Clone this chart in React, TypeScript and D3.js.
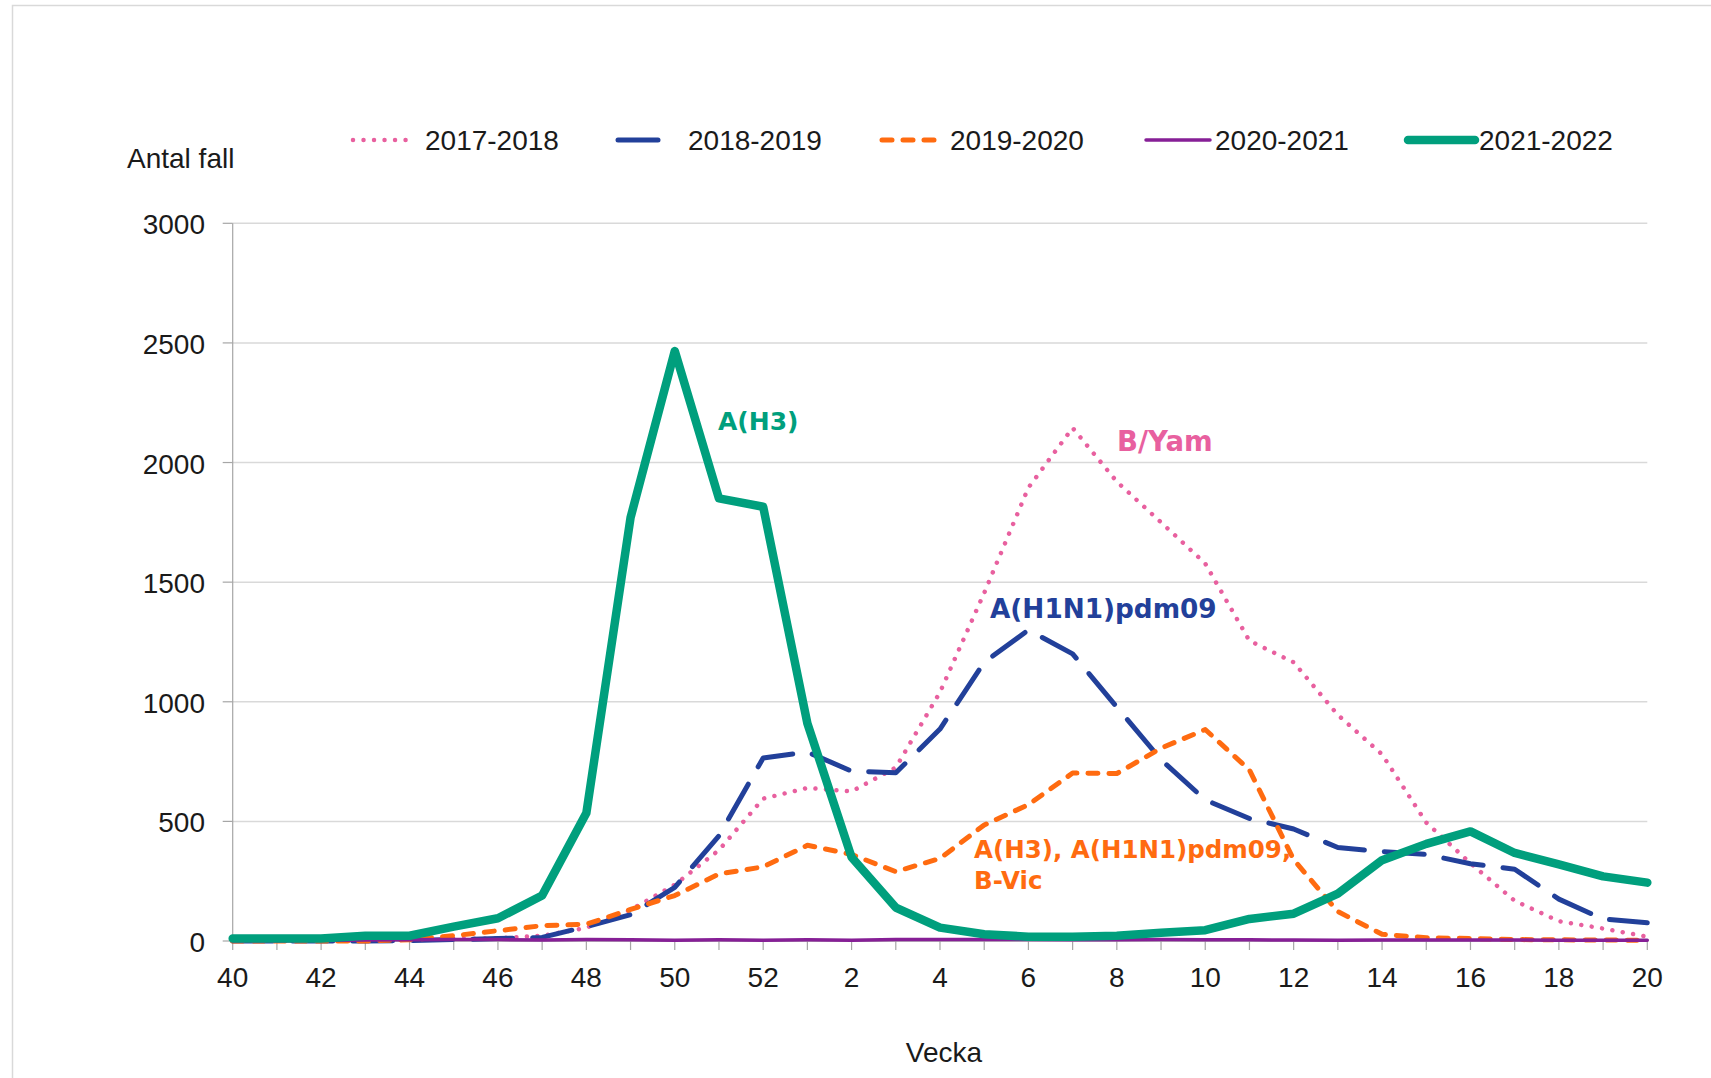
import React from "react";
import * as d3 from "d3";

const weeks = ["40","41","42","43","44","45","46","47","48","49","50","51","52","1","2","3","4","5","6","7","8","9","10","11","12","13","14","15","16","17","18","19","20"];
const yTicks = [0, 500, 1000, 1500, 2000, 2500, 3000];

const s2017 = [0,0,0,2,5,8,12,22,55,130,235,380,595,640,625,725,1040,1455,1895,2145,1920,1750,1578,1255,1165,945,780,495,325,168,83,52,18];
const s2018 = [0,0,0,0,2,6,10,15,60,110,224,440,765,790,710,703,886,1165,1300,1200,978,758,590,512,468,391,374,362,323,300,175,92,76];
const s2019 = [0,0,0,0,5,22,43,64,70,132,190,280,310,400,362,290,345,485,570,702,700,806,884,715,340,123,28,14,10,6,5,4,3];
const s2020 = [0,0,2,4,5,6,6,4,6,5,3,5,3,5,3,6,6,6,6,5,5,6,5,5,4,3,4,4,4,4,3,3,3];
const s2021 = [10,10,10,22,22,60,95,190,535,1770,2466,1850,1815,910,350,140,56,28,18,18,22,34,45,92,114,198,338,406,458,368,320,270,244];

const seriesNames = ["2017-2018","2018-2019","2019-2020","2020-2021","2021-2022"];
const seriesData = [s2017, s2018, s2019, s2020, s2021];
const seriesStyle = [
  { color: "#E8609F", width: 4.5, dash: "0.01 10.5", cap: "round" },
  { color: "#22409A", width: 5, dash: "40 20", cap: "round" },
  { color: "#FF6B10", width: 5, dash: "10 11", cap: "round" },
  { color: "#861F96", width: 3.5, dash: null, cap: "round" },
  { color: "#009F7D", width: 8.5, dash: null, cap: "round" },
];
const legendPos = [
  { x1: 353, x2: 413, tx: 425 },
  { x1: 618, x2: 676, tx: 688 },
  { x1: 882, x2: 941, tx: 950 },
  { x1: 1146, x2: 1210, tx: 1215 },
  { x1: 1408, x2: 1475, tx: 1479 },
];

const annotations = [
  { lines: ["A(H3)"], x: 718, y: 430, color: "#009F7D", size: 25 },
  { lines: ["B/Yam"], x: 1117, y: 451, color: "#E8609F", size: 27.5 },
  { lines: ["A(H1N1)pdm09"], x: 990, y: 618, color: "#22409A", size: 26.3 },
  { lines: ["A(H3), A(H1N1)pdm09,", "B-Vic"], x: 974, y: 858, color: "#FF6B10", size: 24.5 },
];

const FONT = "'Liberation Sans', Arial, sans-serif";
const BOLD = "'DejaVu Sans', Verdana, sans-serif";

export default function App() {
  const W = 1711, H = 1078;
  const x = d3.scalePoint<string>().domain(weeks).range([232.7, 1647.3]).padding(0);
  const y = d3.scaleLinear().domain([0, 3000]).range([941, 223.3]);
  const line = d3.line<number>().x((_, i) => x(weeks[i]) as number).y((d) => y(d));
  const x0 = x(weeks[0]) as number;
  const x1 = x(weeks[weeks.length - 1]) as number;

  return (
    <svg width={W} height={H} style={{ position: "absolute", left: 0, top: 0, display: "block", background: "#fff" }}>
      <rect x={12.5} y={5.5} width={1800} height={1200} fill="#fff" stroke="#D9D9D9" strokeWidth={1.5} />
      {yTicks.map((t) => (
        <g key={t}>
          {t > 0 && <line x1={x0} x2={x1} y1={y(t)} y2={y(t)} stroke="#D9D9D9" strokeWidth={1.5} />}
          <line x1={x0 - 10} x2={x0} y1={y(t)} y2={y(t)} stroke="#A6A6A6" strokeWidth={1.2} />
          <text x={205} y={y(t) + 11} textAnchor="end" fontFamily={FONT} fontSize={28} fill="#1a1a1a">{t}</text>
        </g>
      ))}
      <line x1={x0} x2={x0} y1={y(3000)} y2={y(0)} stroke="#A6A6A6" strokeWidth={1.2} />
      <line x1={x0} x2={x1} y1={y(0)} y2={y(0)} stroke="#A6A6A6" strokeWidth={1.5} />
      {weeks.map((w, i) => (
        <g key={w}>
          <line x1={x(w)} x2={x(w)} y1={y(0)} y2={y(0) + 9} stroke="#A6A6A6" strokeWidth={1.2} />
          {i % 2 === 0 && (
            <text x={x(w)} y={987} textAnchor="middle" fontFamily={FONT} fontSize={28} fill="#1a1a1a">{w}</text>
          )}
        </g>
      ))}
      {seriesData.map((d, i) => {
        const st = seriesStyle[i];
        return (
          <path key={seriesNames[i]} d={line(d) || ""} fill="none" stroke={st.color} strokeWidth={st.width}
            strokeDasharray={st.dash || undefined} strokeLinecap={st.cap as any} strokeLinejoin="round" />
        );
      })}
      {seriesNames.map((n, i) => {
        const st = seriesStyle[i];
        const lp = legendPos[i];
        return (
          <g key={n}>
            <line x1={lp.x1} x2={lp.x2} y1={140} y2={140} stroke={st.color} strokeWidth={st.width}
              strokeDasharray={st.dash || undefined} strokeLinecap={st.cap as any} />
            <text x={lp.tx} y={150} fontFamily={FONT} fontSize={28} fill="#1a1a1a">{n}</text>
          </g>
        );
      })}
      <text x={127} y={168} fontFamily={FONT} fontSize={28} fill="#1a1a1a">Antal fall</text>
      <text x={944} y={1062} textAnchor="middle" fontFamily={FONT} fontSize={28} fill="#1a1a1a">Vecka</text>
      {annotations.map((a, i) => (
        <text key={i} x={a.x} y={a.y} fontFamily={BOLD} fontWeight="bold" fontSize={a.size} fill={a.color}>
          {a.lines.map((l, j) => (
            <tspan key={j} x={a.x} dy={j === 0 ? 0 : 31}>{l}</tspan>
          ))}
        </text>
      ))}
    </svg>
  );
}
